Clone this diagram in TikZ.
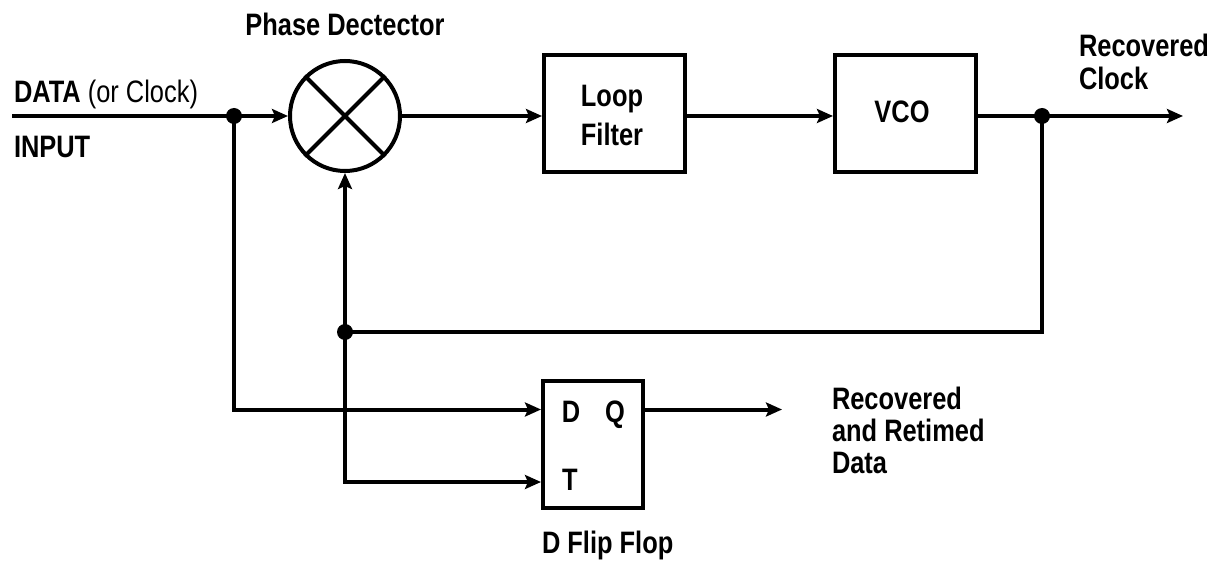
\documentclass[tikz,border=0pt]{standalone}
\usepackage{fontspec}
\newfontfamily\labfont{Liberation Sans}[FakeStretch=0.82]
\usetikzlibrary{arrows.meta,calc}
\begin{document}
\begin{tikzpicture}[x=1pt,y=-1pt,
  line width=4pt,
  every node/.style={font=\labfont\bfseries\fontsize{31}{33}\selectfont, inner sep=0pt},
  blockbox/.style={draw, rectangle, minimum width=141pt, minimum height=117pt, align=center},
  arr/.style={-{Stealth[length=16pt,width=14pt,inset=3pt]}},
  dot/.style={circle, fill, minimum size=16pt, inner sep=0pt},
  lbl/.style={anchor=base west, align=left}]
\useasboundingbox (0,0) rectangle (1217,561);

% blocks
\node[draw, circle, minimum size=110pt] (pd) at (345,116) {};
\draw (pd.north west) -- (pd.south east);
\draw (pd.north east) -- (pd.south west);
\node[blockbox] (lf) at (614.5,113.5) {};
\node[blockbox] (vco) at (905.5,113.5) {};
\node[draw, rectangle, minimum width=100pt, minimum height=127pt] (ff) at (593,444.5) {};

% coordinates
\coordinate (in) at (12,116);
\node[dot] (j1) at (234,116) {};
\node[dot] (j2) at (1042,116) {};
\node[dot] (j3) at (345,332) {};
\coordinate (out) at (1183,116);
\coordinate (qout) at (782,409.5);

% connectors
\draw (in) -- (j1.center);
\draw[arr] (j1.center) -- (pd.west);
\draw[arr] (pd.east) -- (pd.east -| lf.west);
\draw[arr] (pd.east -| lf.east) -- (pd.east -| vco.west);
\draw (pd.east -| vco.east) -- (j2.center);
\draw[arr] (j2.center) -- (out);
\draw (j2.center) |- (j3.center);
\draw[arr] (j3.center) -- (pd.south);
\draw[arr] (j1.center) |- ([yshift=35pt]ff.west);
\draw[arr] (j3.center) |- ([yshift=-37.5pt]ff.west);
\draw[arr] ([yshift=35pt]ff.east) -- (qout);

% texts
\node[anchor=base] (pdl) at (345,36) {Phase Dectector};
\node[lbl] (datal) at (12,103) {DATA \mdseries(or Clock)};
\node[lbl] (inl) at (12,158) {INPUT};
\node[anchor=base] (loopl) at (612,107) {Loop};
\node[anchor=base] (filtl) at (612,146) {Filter};
\node[anchor=base] (vcol) at (902,123) {VCO};
\node[lbl] (rcl) at (1077,90) {Recovered\\Clock};
\node[anchor=base] (dl) at (571,422) {D};
\node[anchor=base] (ql) at (615,422) {Q};
\node[anchor=base] (tl) at (570,490) {T};
\node[lbl, font=\labfont\bfseries\fontsize{31}{32}\selectfont] (rdl) at (830,473) {Recovered\\and Retimed\\Data};
\node[lbl] (ffl) at (540,553) {D Flip Flop};
\end{tikzpicture}
\end{document}
